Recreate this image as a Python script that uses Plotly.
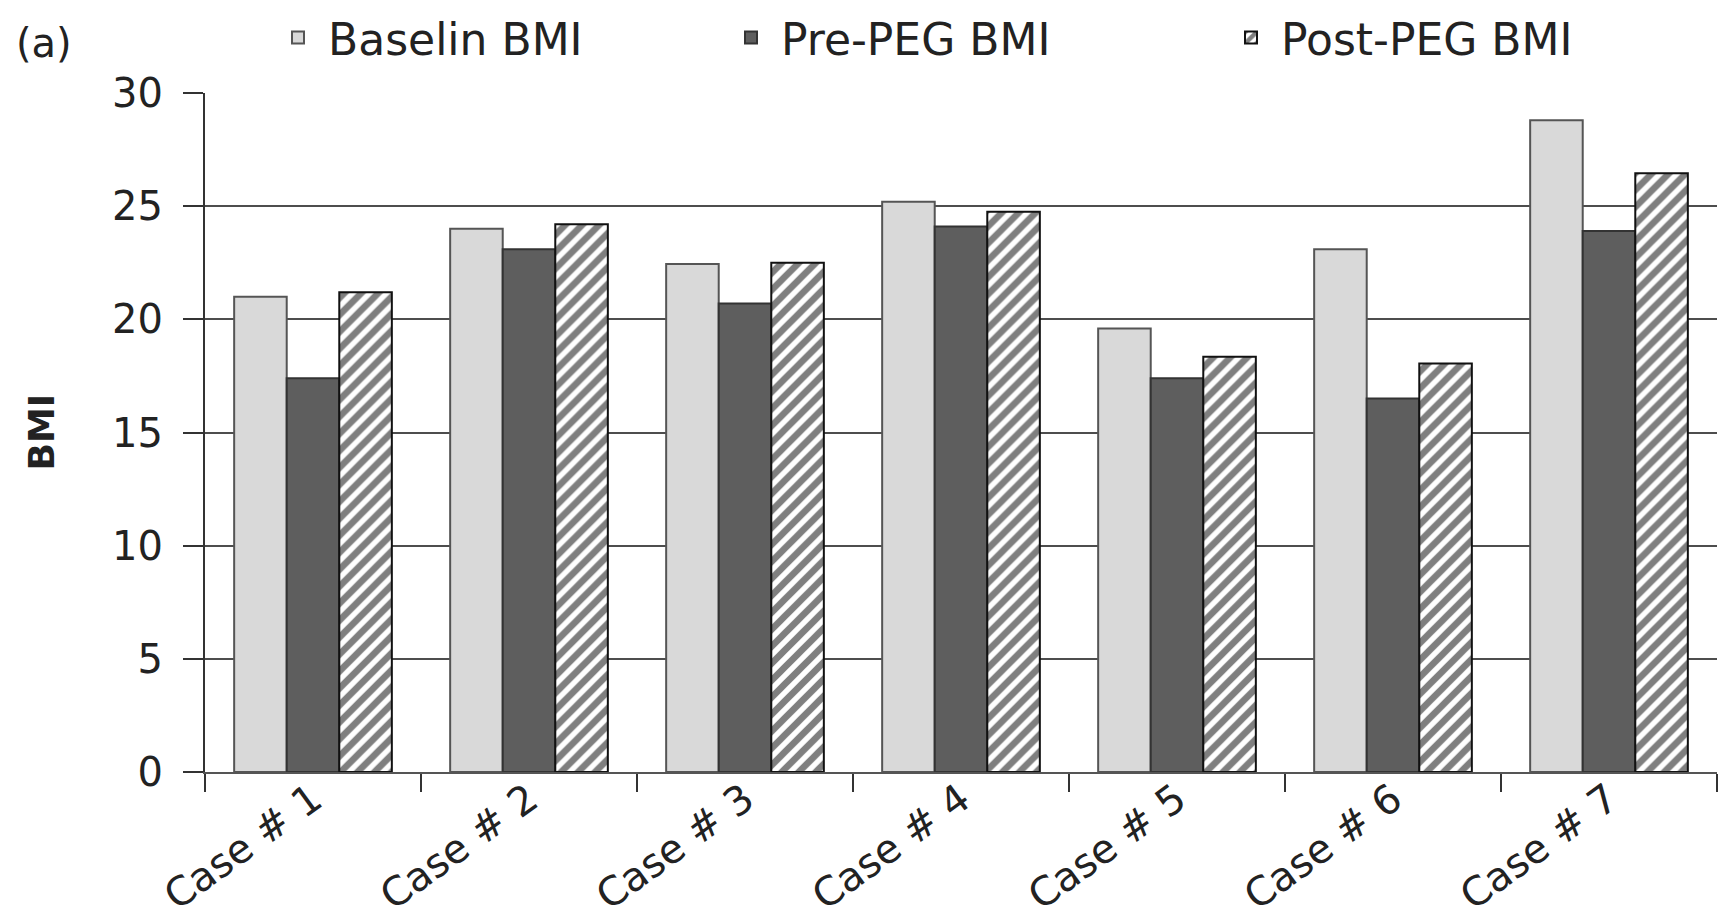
import plotly.graph_objects as go

cases = ["Case # 1", "Case # 2", "Case # 3", "Case # 4", "Case # 5", "Case # 6", "Case # 7"]
baseline_bmi = [21.0, 24.0, 22.45, 25.2, 19.6, 23.1, 28.8]
pre_peg_bmi = [17.4, 23.1, 20.7, 24.1, 17.4, 16.5, 23.9]
post_peg_bmi = [21.2, 24.2, 22.5, 24.75, 18.35, 18.05, 26.45]
y_ticks = [0, 5, 10, 15, 20, 25, 30]

FONT = "DejaVu Sans"
TXT = "#222222"

fig = go.Figure()
fig.add_trace(go.Bar(
    name="Baselin BMI", x=cases, y=baseline_bmi,
    marker=dict(color="#d9d9d9", line=dict(color="#555555", width=2)),
    legend="legend", showlegend=True,
))
fig.add_trace(go.Bar(
    name="Pre-PEG BMI", x=cases, y=pre_peg_bmi,
    marker=dict(color="#5e5e5e", line=dict(color="#333333", width=2)),
    legend="legend2", showlegend=True,
))
fig.add_trace(go.Bar(
    name="Post-PEG BMI", x=cases, y=post_peg_bmi,
    marker=dict(color="white", line=dict(color="#111111", width=2),
                pattern=dict(shape="/", fgcolor="#000000", bgcolor="white",
                             size=12, solidity=0.55)),
    legend="legend3", showlegend=True,
))

W, H = 1719, 920
L, R, T, B = 205, 2, 93, 148
pw = W - L - R
ph = H - T - B

def px_x(p):
    return (p - L) / pw

def px_y(p):
    return (H - B - p) / ph

leg_common = dict(orientation="h", bgcolor="rgba(0,0,0,0)", borderwidth=0,
                  font=dict(family=FONT, size=44, color=TXT), itemwidth=50,
                  yanchor="middle", xanchor="left", y=px_y(38), visible=True)

fig.update_layout(
    width=W, height=H,
    margin=dict(l=L, r=R, t=T, b=B, autoexpand=False),
    paper_bgcolor="white", plot_bgcolor="white",
    barmode="group", bargap=0.27, bargroupgap=0,
    showlegend=True,
    font=dict(family=FONT, color=TXT),
    legend=dict(**leg_common, x=px_x(268)),
    legend2=dict(**leg_common, x=px_x(721)),
    legend3=dict(**leg_common, x=px_x(1221)),
    xaxis=dict(
        type="category", automargin=False,
        showline=True, linecolor="#555555", linewidth=2,
        ticks="outside", tickson="boundaries", ticklen=18, tickwidth=2, tickcolor="#333333",
        tickangle=-36, ticklabelstandoff=-14,
        tickfont=dict(family=FONT, size=40, color=TXT),
        showgrid=False,
    ),
    yaxis=dict(
        range=[0, 30], tickvals=y_ticks, automargin=False,
        showline=True, linecolor="#333333", linewidth=2,
        ticks="outside", ticklen=20, tickwidth=2, tickcolor="#333333",
        ticklabelstandoff=12,
        tickfont=dict(family=FONT, size=40, color=TXT),
        showgrid=True, gridcolor="#4d4d4d", gridwidth=2, zeroline=False,
    ),
    annotations=[
        dict(text="(a)", xref="paper", yref="paper", x=px_x(14), y=px_y(43),
             xanchor="left", yanchor="middle", showarrow=False,
             font=dict(family=FONT, size=40, color=TXT)),
        dict(text="<b>BMI</b>", xref="paper", yref="paper", x=px_x(41), y=0.5,
             xanchor="center", yanchor="middle", showarrow=False, textangle=-90,
             font=dict(family=FONT, size=36, color=TXT)),
    ],
)

fig.write_html("out.html")
